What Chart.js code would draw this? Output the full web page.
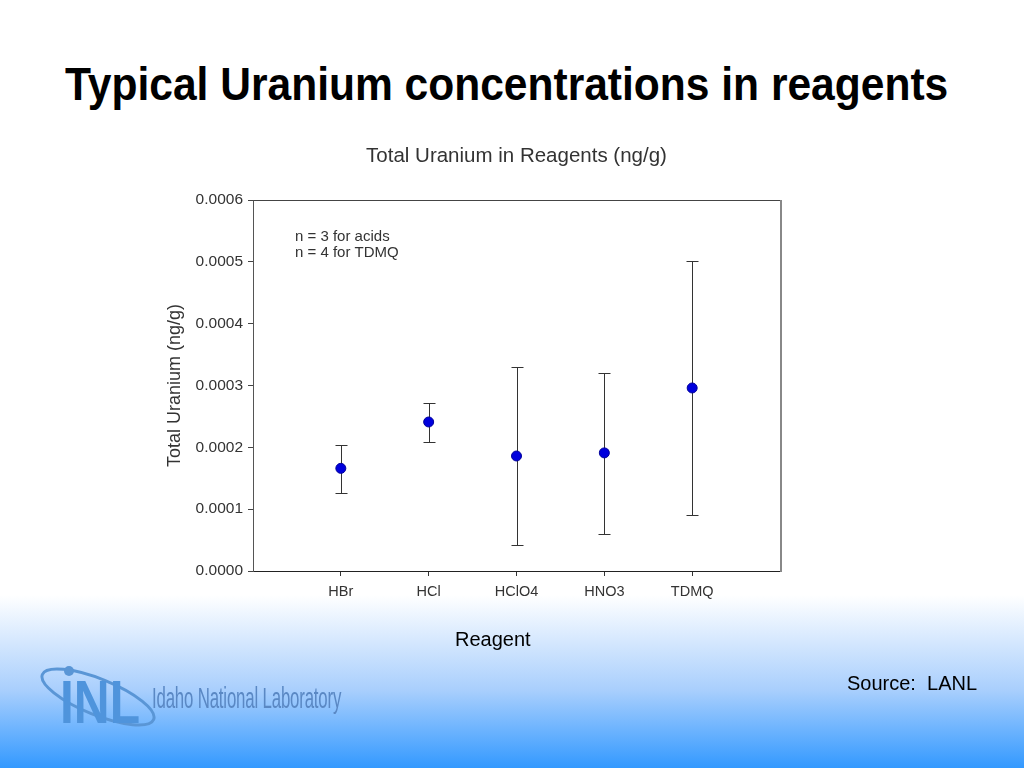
<!DOCTYPE html>
<html>
<head>
<meta charset="utf-8">
<script src="https://cdn.jsdelivr.net/npm/chart.js@4.4.1/dist/chart.umd.min.js"></script>
<style>
  html, body { margin: 0; padding: 0; width: 1024px; height: 768px; overflow: hidden; }
  body {
    position: relative;
    background: linear-gradient(to bottom, #ffffff 0px, #ffffff 595px, #a9cffd 690px, #3399ff 768px);
    font-family: "Liberation Sans", Arial, sans-serif;
  }
  #slideTitle {
    position: absolute; left: 65px; top: 60px; white-space: nowrap;
    font-family: "Liberation Sans", Arial, sans-serif;
    font-weight: bold; font-size: 47px; line-height: 1; color: #000;
    transform: scaleX(0.905); transform-origin: left top;
  }
  #source {
    position: absolute; left: 847px; top: 672px; font-size: 20px; color: #000; white-space: nowrap;
  }
  #xTitle {
    position: absolute; left: 455px; top: 628px; font-size: 20px; color: #000; white-space: nowrap;
  }
  #chartBox { position: absolute; left: 10px; top: 0px; width: 1014px; height: 768px; }
  #logo { position: absolute; left: 38px; top: 660px; width: 320px; height: 70px; }
  #logoText {
    position: absolute; left: 152px; top: 682px; white-space: nowrap;
    font-family: "Liberation Sans", Arial, sans-serif;
    font-size: 29px; color: #5a88c4; letter-spacing: -0.3px;
    transform: scaleX(0.58); transform-origin: left top;
  }
</style>
</head>
<body>
<div id="slideTitle">Typical Uranium concentrations in reagents</div>
<div id="chartBox"><canvas id="c"></canvas></div>
<svg id="logo" width="320" height="70" viewBox="0 0 320 70">
  <ellipse cx="60" cy="37" rx="60" ry="18" fill="none" stroke="#5a96d6" stroke-width="3" transform="rotate(22 60 37)"/>
  <circle cx="31" cy="11" r="5" fill="#5a96d6"/>
  <text x="22" y="63" font-family="Liberation Sans, Arial, sans-serif" font-weight="bold" font-size="62" fill="#4f94dc" textLength="80" lengthAdjust="spacingAndGlyphs">INL</text>
</svg>
<div id="logoText">Idaho National Laboratory</div>
<div id="xTitle">Reagent</div>
<div id="source">Source:&nbsp; LANL</div>
<script>
// ---- data ----
const categories = ["HBr", "HCl", "HClO4", "HNO3", "TDMQ"];
const meanValues = [0.000166, 0.000241, 0.000186, 0.000191, 0.000296];
const lowerValues = [0.000126, 0.000209, 0.000042, 0.000060, 0.000090];
const upperValues = [0.000204, 0.000272, 0.000330, 0.000320, 0.000501];
const yTicks = [0, 0.0001, 0.0002, 0.0003, 0.0004, 0.0005, 0.0006];
const noteLines = ["n = 3 for acids", "n = 4 for TDMQ"];

const points = categories.map((c, i) => ({ x: i + 1, y: meanValues[i] }));

const errorBarPlugin = {
  id: 'errorBars',
  beforeDatasetsDraw(chart) {
    const ctx = chart.ctx, xs = chart.scales.x, ys = chart.scales.y;
    ctx.save();
    ctx.strokeStyle = '#333';
    ctx.lineWidth = 1;
    categories.forEach((c, i) => {
      const px = Math.round(xs.getPixelForValue(i + 1)) + 0.5;
      const top = Math.round(ys.getPixelForValue(upperValues[i])) + 0.5;
      const bot = Math.round(ys.getPixelForValue(lowerValues[i])) + 0.5;
      ctx.beginPath();
      ctx.moveTo(px, top); ctx.lineTo(px, bot);
      ctx.moveTo(px - 6, top); ctx.lineTo(px + 6, top);
      ctx.moveTo(px - 6, bot); ctx.lineTo(px + 6, bot);
      ctx.stroke();
    });
    ctx.restore();
  }
};

const framePlugin = {
  id: 'frame',
  afterDraw(chart) {
    const { ctx, chartArea: a } = chart;
    ctx.save();
    ctx.strokeStyle = '#444';
    ctx.lineWidth = 1;
    ctx.beginPath();
    ctx.moveTo(Math.round(a.left) + 0.5, Math.round(a.top) + 0.5);
    ctx.lineTo(Math.round(a.right) + 0.5, Math.round(a.top) + 0.5);
    ctx.stroke();
    ctx.strokeStyle = '#888';
    ctx.lineWidth = 2;
    ctx.beginPath();
    ctx.moveTo(Math.round(a.right) + 1, Math.round(a.top));
    ctx.lineTo(Math.round(a.right) + 1, Math.round(a.bottom) + 1);
    ctx.stroke();
    // note text
    ctx.fillStyle = '#333';
    ctx.font = '15px "Liberation Sans", Arial, sans-serif';
    ctx.textBaseline = 'middle';
    ctx.textAlign = 'left';
    noteLines.forEach((t, k) => ctx.fillText(t, a.left + 42, a.top + 37 + k * 16));
    ctx.restore();
  }
};

new Chart(document.getElementById('c'), {
  type: 'scatter',
  data: {
    datasets: [{
      data: points,
      backgroundColor: '#0000dd',
      borderColor: '#00009a',
      borderWidth: 1,
      pointRadius: 5,
      pointHoverRadius: 5
    }]
  },
  options: {
    responsive: true,
    maintainAspectRatio: false,
    animation: false,
    events: [],
    layout: { padding: { left: 0, right: 244, top: 0, bottom: 0 } },
    plugins: {
      legend: { display: false },
      tooltip: { enabled: false },
      title: {
        display: true,
        fullSize: false,
        text: 'Total Uranium in Reagents (ng/g)',
        color: '#333',
        font: { family: '"Liberation Sans", Arial, sans-serif', size: 20.5, weight: 'normal', lineHeight: 1.2 },
        padding: { top: 144, bottom: 31.4 }
      }
    },
    scales: {
      x: {
        type: 'linear',
        min: 0, max: 6,
        afterBuildTicks(scale) { scale.ticks = categories.map((c, i) => ({ value: i + 1 })); },
        afterFit(scale) { scale.height = 197; },
        ticks: {
          color: '#333',
          padding: 7,
          maxRotation: 0,
          autoSkip: false,
          font: { family: '"Liberation Sans", Arial, sans-serif', size: 14.5 },
          callback: (v) => categories[v - 1] || ''
        },
        grid: { drawOnChartArea: false, drawTicks: true, tickLength: 5, color: '#333' },
        border: { display: true, color: '#222', width: 1 },
        title: { display: false }
      },
      y: {
        min: 0, max: 0.0006,
        afterBuildTicks(scale) { scale.ticks = yTicks.map(v => ({ value: v })); },
        afterFit(scale) { scale.width = 243; },
        ticks: {
          color: '#333',
          padding: 5,
          font: { family: '"Liberation Sans", Arial, sans-serif', size: 15.5 },
          callback: (v) => Number(v).toFixed(4)
        },
        grid: { drawOnChartArea: false, drawTicks: true, tickLength: 5, color: '#444' },
        border: { display: true, color: '#555', width: 1 },
        title: {
          display: true, text: 'Total Uranium (ng/g)', color: '#333',
          font: { family: '"Liberation Sans", Arial, sans-serif', size: 18, lineHeight: 1.2 },
          padding: { top: 154, bottom: 0 }
        }
      }
    }
  },
  plugins: [errorBarPlugin, framePlugin]
});
</script>
</body>
</html>
